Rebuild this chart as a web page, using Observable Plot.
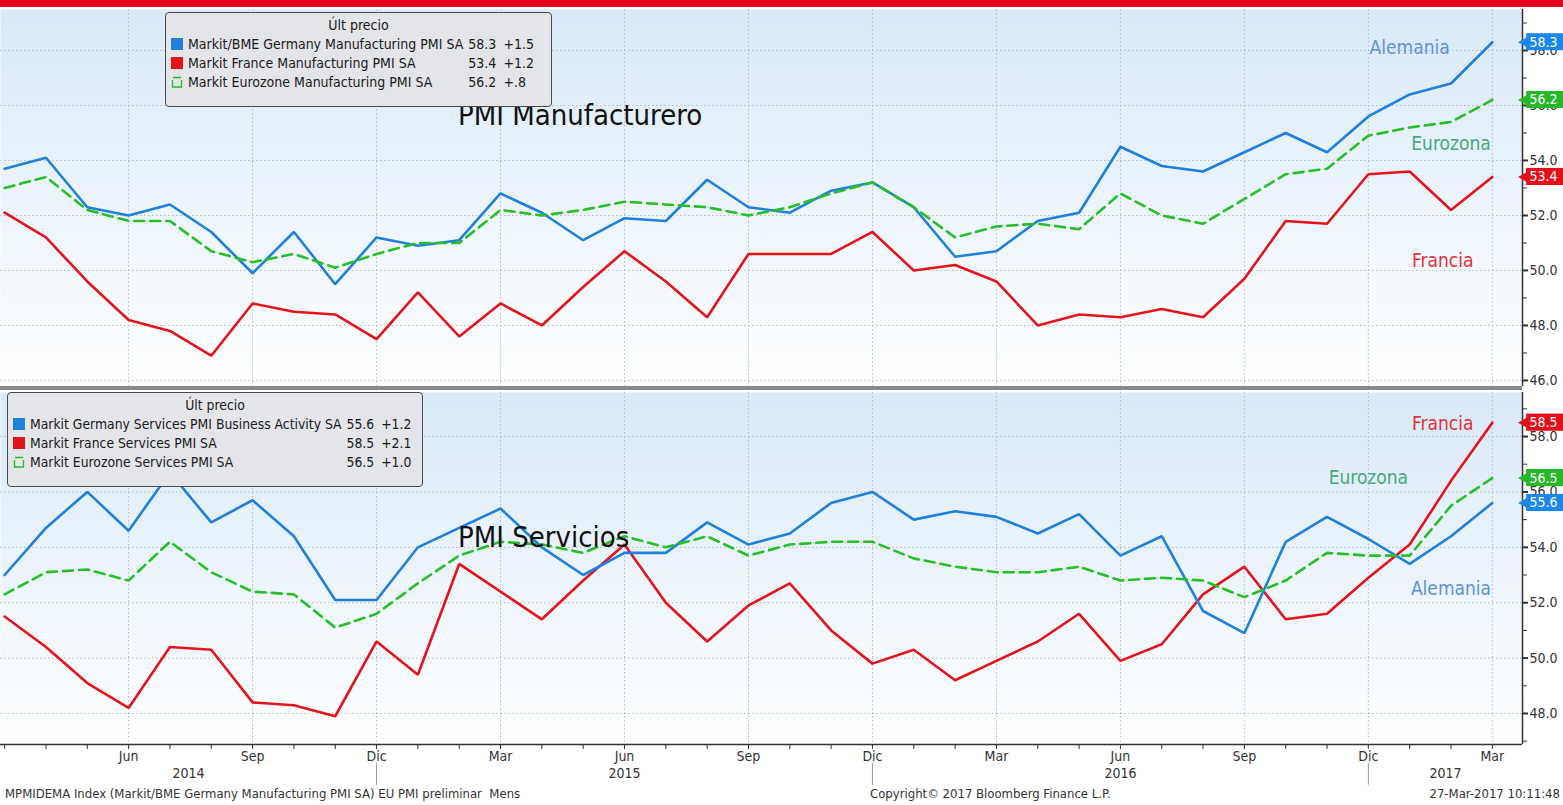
<!DOCTYPE html>
<html>
<head>
<meta charset="utf-8">
<script src="https://cdn.jsdelivr.net/npm/d3@7"></script>
<script src="https://cdn.jsdelivr.net/npm/@observablehq/plot@0.6"></script>
<style>
  body { margin: 0; background: #fff; }
  #wrap { position: relative; width: 1563px; height: 805px; overflow: hidden;
    font-family: "DejaVu Sans Condensed", "Liberation Sans Narrow", "DejaVu Sans", sans-serif; color: #222; }
  .redbar { position: absolute; left: 0; top: 0; width: 1563px; height: 7px; background: #e2001a; z-index: 5; }
  .sep { position: absolute; left: 0; top: 386px; width: 1522px; height: 4px; background: #8a8a8a; z-index: 4; }
  .panel { position: absolute; left: 0; }
  .title { position: absolute; font-size: 29px; line-height: 32px; color: #111; white-space: nowrap; z-index: 3; }
  .legend { position: absolute; box-sizing: border-box; background: #e3e5e8; border: 1.5px solid #4a4a4a;
    border-radius: 4px; font-size: 14px; line-height: 19px; color: #1a1a1a; padding: 3px 5px; z-index: 3; }
  .legend .lt { text-align: center; }
  .legend table { border-collapse: collapse; }
  .legend td { padding: 0; white-space: nowrap; }
  .legend td.v { text-align: right; padding-left: 5px; }
  .legend td.c { text-align: left; padding-left: 7px; }
  .sw { display: inline-block; width: 12px; height: 12px; margin-right: 5px; vertical-align: -1px; }
  .foot { position: absolute; top: 786px; font-size: 13px; line-height: 16px; color: #333; white-space: nowrap; }
</style>
</head>
<body>
<div id="wrap">
  <div class="redbar"></div>
  <div class="panel" id="top" style="top:0px"></div>
  <div class="sep"></div>
  <div class="panel" id="bottom" style="top:391px"></div>
</div>
<script>
// ---------- data ----------
const months = [
  "2014-03","2014-04","2014-05","2014-06","2014-07","2014-08","2014-09","2014-10","2014-11","2014-12",
  "2015-01","2015-02","2015-03","2015-04","2015-05","2015-06","2015-07","2015-08","2015-09","2015-10","2015-11","2015-12",
  "2016-01","2016-02","2016-03","2016-04","2016-05","2016-06","2016-07","2016-08","2016-09","2016-10","2016-11","2016-12",
  "2017-01","2017-02","2017-03"
];
const monthNames = {"03": "Mar", "06": "Jun", "09": "Sep", "12": "Dic"};
const yearLabels = ["2014", "2015", "2016", "2017"];

// Manufacturing PMI
const deMfg = [53.7,54.1,52.3,52.0,52.4,51.4,49.9,51.4,49.5,51.2,
  50.9,51.1,52.8,52.1,51.1,51.9,51.8,53.3,52.3,52.1,52.9,53.2,
  52.3,50.5,50.7,51.8,52.1,54.5,53.8,53.6,54.3,55.0,54.3,55.6,
  56.4,56.8,58.3];
const frMfg = [52.1,51.2,49.6,48.2,47.8,46.9,48.8,48.5,48.4,47.5,
  49.2,47.6,48.8,48.0,49.4,50.7,49.6,48.3,50.6,50.6,50.6,51.4,
  50.0,50.2,49.6,48.0,48.4,48.3,48.6,48.3,49.7,51.8,51.7,53.5,
  53.6,52.2,53.4];
const ezMfg = [53.0,53.4,52.2,51.8,51.8,50.7,50.3,50.6,50.1,50.6,
  51.0,51.0,52.2,52.0,52.2,52.5,52.4,52.3,52.0,52.3,52.8,53.2,
  52.3,51.2,51.6,51.7,51.5,52.8,52.0,51.7,52.6,53.5,53.7,54.9,
  55.2,55.4,56.2];

// Services PMI
const deSrv = [53.0,54.7,56.0,54.6,56.7,54.9,55.7,54.4,52.1,52.1,
  54.0,54.7,55.4,54.0,53.0,53.8,53.8,54.9,54.1,54.5,55.6,56.0,
  55.0,55.3,55.1,54.5,55.2,53.7,54.4,51.7,50.9,54.2,55.1,54.3,
  53.4,54.4,55.6];
const frSrv = [51.5,50.4,49.1,48.2,50.4,50.3,48.4,48.3,47.9,50.6,
  49.4,53.4,52.4,51.4,52.8,54.1,52.0,50.6,51.9,52.7,51.0,49.8,
  50.3,49.2,49.9,50.6,51.6,49.9,50.5,52.3,53.3,51.4,51.6,52.9,
  54.1,56.4,58.5];
const ezSrv = [52.3,53.1,53.2,52.8,54.2,53.1,52.4,52.3,51.1,51.6,
  52.7,53.7,54.2,54.1,53.8,54.4,54.0,54.4,53.7,54.1,54.2,54.2,
  53.6,53.3,53.1,53.1,53.3,52.8,52.9,52.8,52.2,52.8,53.8,53.7,
  53.7,55.5,56.5];

const mfgMajor = [46, 48, 50, 52, 54, 56, 58];
const mfgMinor = [47, 49, 51, 53, 55, 57, 59];
const srvMajor = [48, 50, 52, 54, 56, 58];
const srvMinor = [47, 49, 51, 53, 55, 57, 59];

const mfgNames = ["Markit/BME Germany Manufacturing PMI SA", "Markit France Manufacturing PMI SA", "Markit Eurozone Manufacturing PMI SA"];
const srvNames = ["Markit Germany Services PMI Business Activity SA", "Markit France Services PMI SA", "Markit Eurozone Services PMI SA"];
const shortNames = ["Alemania", "Francia", "Eurozona"];

// annotation anchor points (month index, value)
const mfgAnnot = [{x: 34.0, y: 58.1}, {x: 34.8, y: 50.35}, {x: 35.0, y: 54.6}];
const srvAnnot = [{x: 35.0, y: 52.5}, {x: 34.8, y: 58.45}, {x: 33.0, y: 56.5}];

// ---------- style ----------
const FONT = '"DejaVu Sans Condensed", "Liberation Sans Narrow", "DejaVu Sans", sans-serif';
const lineColors = ["#1f80dd", "#e5141c", "#27bf27"];
const annotColors = ["#5f93d9", "#e2303a", "#45a97a"];
const tagColors = ["#1a86ef", "#e60f19", "#27b827"];
const xDomain = [-0.1, 36.73];
const W = 1563, MR = 41;

function fmtChange(c) {
  const a = Math.abs(c);
  return (c >= 0 ? "+" : "-") + (a < 1 ? a.toFixed(1).slice(1) : a.toFixed(1));
}

function panel({series, yDomain, major, minor, height, marginTop, marginBottom, grad, annot, xAxis}) {
  const idx = months.map((m, i) => i);
  const quarterIdx = idx.filter(i => i > 0 && monthNames[months[i].slice(5)]);
  const decIdx = idx.filter(i => months[i].slice(5) === "12");
  const last = series.map((s, k) => ({k, v: s[s.length - 1]}));

  const marks = [
    Plot.frame({fill: `url(#${grad})`, stroke: "none"}),
    Plot.ruleY(major, {stroke: "#b3b8bd", strokeDasharray: "1.5,2.5", strokeWidth: 1}),
    Plot.ruleX(quarterIdx, {stroke: "#b3b8bd", strokeDasharray: "1.5,2.5", strokeWidth: 1}),
  ];
  // lines: red, blue, then dashed green on top
  [1, 0, 2].forEach(k => {
    marks.push(Plot.line(series[k], {
      x: (d, i) => i, y: d => d, stroke: lineColors[k], strokeWidth: 2.6,
      strokeDasharray: k === 2 ? "10,6" : null, strokeLinejoin: "miter"
    }));
  });
  marks.push(
    Plot.axisY({anchor: "right", ticks: major, tickFormat: d => d.toFixed(1), tickSize: 5, tickPadding: 2, fontSize: 14, strokeWidth: 2, label: null}),
    Plot.axisY({anchor: "right", ticks: minor, tickFormat: () => "", tickSize: 4, label: null}),
    Plot.ruleX([xDomain[1]], {stroke: "#333", strokeWidth: 1.5}),
    Plot.text(annot, {x: "x", y: "y", text: (d, i) => shortNames[i], fill: (d, i) => annotColors[i], fontSize: 19, textAnchor: "middle"}),
    // value tags on the right
    Plot.rect(last, {x1: () => xDomain[1] + 0.1, x2: () => xDomain[1] + 1.3, y1: d => d.v - 0.31, y2: d => d.v + 0.31, fill: d => tagColors[d.k]}),
    Plot.dot(last, {x: () => xDomain[1] + 0.1, y: "v", symbol: "triangle", rotate: -90, r: 5.5, fill: d => tagColors[d.k], stroke: null}),
    Plot.text(last, {x: () => xDomain[1] + 0.17, y: "v", text: d => d.v.toFixed(1), fill: "#fff", fontSize: 14, textAnchor: "start"})
  );
  if (xAxis) {
    const yearCenters = yearLabels.map((y, j) => {
      const lo = j === 0 ? xDomain[0] : decIdx[j - 1];
      const hi = j < decIdx.length ? decIdx[j] : xDomain[1];
      return {x: (lo + hi) / 2, label: y};
    });
    marks.push(
      Plot.ruleY([yDomain[0]], {stroke: "#333", strokeWidth: 1.5}),
      Plot.axisX({ticks: idx, tickSize: 5, tickFormat: () => "", label: null}),
      Plot.axisX({ticks: quarterIdx, tickSize: 0, tickPadding: 7, fontSize: 14, tickFormat: i => monthNames[months[i].slice(5)], label: null}),
      Plot.ruleX(decIdx, {insetTop: height - marginTop - marginBottom + 19, insetBottom: -41, stroke: "#999", strokeWidth: 1}),
      Plot.text(yearCenters, {x: "x", text: "label", frameAnchor: "bottom", dy: 33, fontSize: 14})
    );
  }
  const svg = Plot.plot({
    width: W, height, marginLeft: 0, marginRight: MR, marginTop, marginBottom,
    x: {type: "linear", domain: xDomain, axis: xAxis ? undefined : null, label: null},
    y: {domain: yDomain, label: null},
    style: {fontFamily: FONT, fontSize: "14px", color: "#333", background: "transparent", overflow: "visible"},
    marks
  });
  svg.insertAdjacentHTML("afterbegin",
    `<defs><linearGradient id="${grad}" x1="0" y1="0" x2="0" y2="1">` +
    `<stop offset="0" stop-color="#d9e9f7"/><stop offset="0.55" stop-color="#edf5fc"/><stop offset="1" stop-color="#ffffff"/>` +
    `</linearGradient></defs>`);
  return svg;
}

document.getElementById("top").appendChild(panel({
  series: [deMfg, frMfg, ezMfg], yDomain: [45.78, 59.49], major: mfgMajor, minor: mfgMinor,
  height: 392, marginTop: 9, marginBottom: 6, grad: "gTop", annot: mfgAnnot, xAxis: false
}));
document.getElementById("bottom").appendChild(panel({
  series: [deSrv, frSrv, ezSrv], yDomain: [46.88, 59.59], major: srvMajor, minor: srvMinor,
  height: 414, marginTop: 1, marginBottom: 61, grad: "gBot", annot: srvAnnot, xAxis: true
}));

// ---------- titles, legends, footer ----------
const wrap = document.getElementById("wrap");
function addDiv(cls, style, html) {
  const d = document.createElement("div");
  d.className = cls; d.style.cssText = style; d.innerHTML = html; wrap.appendChild(d); return d;
}
addDiv("title", "left:458px;top:99px", "PMI Manufacturero");
addDiv("title", "left:458px;top:521px", "PMI Servicios");

function swatch(k) {
  if (k === 2) return `<svg class="sw" viewBox="0 0 12 12" style="width:12px;height:12px"><path d="M1.5,4 V11 H10.5 V4 M2,1.5 H10" fill="none" stroke="#27b827" stroke-width="1.3"/></svg>`;
  return `<span class="sw" style="background:${lineColors[k]}"></span>`;
}
function legend(names, series, style) {
  let rows = names.map((n, k) => {
    const s = series[k], v = s[s.length - 1], c = v - s[s.length - 2];
    return `<tr><td>${swatch(k)}${n}</td><td class="v">${v.toFixed(1)}</td><td class="c">${fmtChange(c)}</td></tr>`;
  }).join("");
  addDiv("legend", style, `<div class="lt">Últ precio</div><table>${rows}</table>`);
}
legend(mfgNames, [deMfg, frMfg, ezMfg], "left:165px;top:12px;width:387px;height:95px");
legend(srvNames, [deSrv, frSrv, ezSrv], "left:7px;top:392px;width:416px;height:95px;font-size:13.8px");

addDiv("foot", "left:5px", "MPMIDEMA Index (Markit/BME Germany Manufacturing PMI SA) EU PMI preliminar&nbsp; Mens");
addDiv("foot", "left:870px", "Copyright© 2017 Bloomberg Finance L.P.");
addDiv("foot", "right:3px", "27-Mar-2017 10:11:48");
</script>
</body>
</html>
